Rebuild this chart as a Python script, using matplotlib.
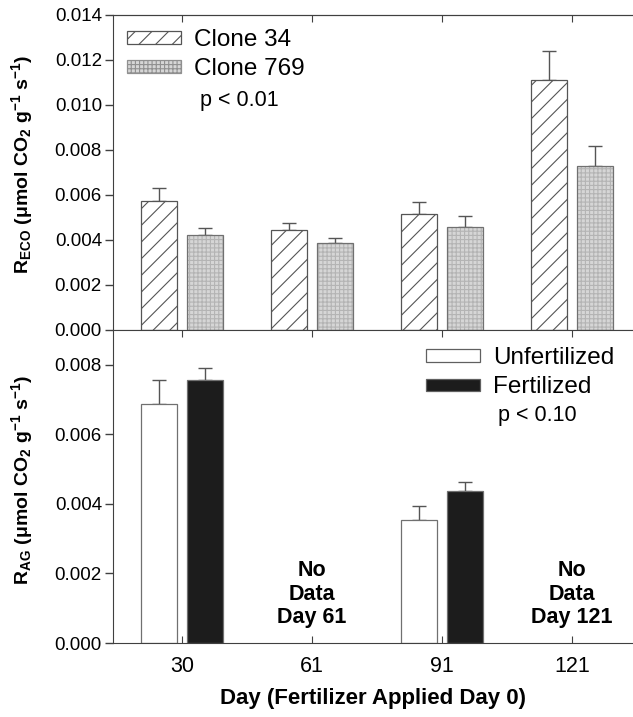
import numpy as np
import matplotlib
matplotlib.use("Agg")
import matplotlib.pyplot as plt
from matplotlib.patches import Patch

plt.rcParams['font.family'] = ['Liberation Sans', 'DejaVu Sans']
plt.rcParams['mathtext.fontset'] = 'custom'
plt.rcParams['mathtext.rm'] = 'Liberation Sans'
plt.rcParams['mathtext.bf'] = 'Liberation Sans:bold'
plt.rcParams['mathtext.it'] = 'Liberation Sans:italic'
plt.rcParams['hatch.linewidth'] = 0.8

# ---- data ----
days = ['30', '61', '91', '121']
clone34 = [0.00573, 0.00444, 0.00516, 0.01110]
clone34_err = [0.00058, 0.00031, 0.00051, 0.00130]
clone769 = [0.00422, 0.00387, 0.00458, 0.00729]
clone769_err = [0.00031, 0.00022, 0.00049, 0.00089]

unfert_days = [0, 2]  # indices of days with data
unfert = [0.00688, 0.00354]
unfert_err = [0.00069, 0.00040]
fert = [0.00757, 0.00437]
fert_err = [0.00034, 0.00026]
nodata_days = [1, 3]
nodata_labels = ['No\nData\nDay 61', 'No\nData\nDay 121']

top_yticks = [0.000, 0.002, 0.004, 0.006, 0.008, 0.010, 0.012, 0.014]
bot_yticks = [0.000, 0.002, 0.004, 0.006, 0.008]

x = np.arange(len(days))
w = 0.28
off = 0.178
axcol = '#404040'
errcol = '#555555'

fig = plt.figure(figsize=(6.33, 7.17), dpi=100)
ax1 = fig.add_axes([0.1785, 0.5398, 0.8215, 0.4393])
ax2 = fig.add_axes([0.1785, 0.1032, 0.8215, 0.4366])

# ---- top panel ----
ax1.bar(x - off, clone34, w, color='white', edgecolor='#555555', hatch='//', linewidth=0.9, zorder=2)
ax1.errorbar(x - off, clone34, yerr=[np.zeros(4), clone34_err], fmt='none', ecolor=errcol,
             elinewidth=1.0, capsize=5, capthick=1.0, zorder=1)
ax1.bar(x + off, clone769, w, color='#d6d6d6', edgecolor='#b4b4b4', hatch='++++', linewidth=0, zorder=2)
ax1.bar(x + off, clone769, w, fill=False, edgecolor='#707070', linewidth=0.9, zorder=3)
ax1.errorbar(x + off, clone769, yerr=[np.zeros(4), clone769_err], fmt='none', ecolor=errcol,
             elinewidth=1.0, capsize=5, capthick=1.0, zorder=1)

ax1.set_xlim(-0.53, 3.47)
ax1.set_ylim(0, 0.014)
ax1.set_yticks(top_yticks)
ax1.set_yticklabels([f'{v:.3f}' for v in top_yticks])
ax1.set_xticks(x)
ax1.tick_params(axis='x', direction='out', length=5, labelbottom=False, color=axcol)
ax1.tick_params(axis='y', direction='out', length=6, width=1, pad=2, labelsize=13.5, color=axcol)
sec = ax1.secondary_xaxis('top')
sec.set_xticks(x)
sec.tick_params(direction='in', length=5, labeltop=False, color=axcol)
sec.spines['top'].set_color(axcol)
for s in ['left', 'bottom', 'top']:
    ax1.spines[s].set_color(axcol)
ax1.spines['right'].set_visible(False)

ax1.set_ylabel(r'R$_{\mathbf{ECO}}$ ($\mathbf{\mu}$mol CO$_{\mathbf{2}}$ g$^{\mathbf{-1}}$ s$^{\mathbf{-1}}$)',
               fontsize=14, fontweight='bold')
ax1.yaxis.set_label_coords(-0.15, 0.525)

h1 = [Patch(facecolor='white', edgecolor='#555555', hatch='//', linewidth=0.9),
      Patch(facecolor='#d6d6d6', edgecolor='#909090', hatch='++++', linewidth=0.9)]
ax1.legend(h1, ['Clone 34', 'Clone 769'], loc='upper left', bbox_to_anchor=(0.027, 0.955),
           frameon=False, fontsize=17.5, handlelength=2.2, handleheight=0.42,
           handletextpad=0.55, labelspacing=0.3, borderpad=0, borderaxespad=0)
ax1.text(0.167, 0.727, 'p < 0.01', transform=ax1.transAxes, fontsize=15.5, ha='left', va='center')

# ---- bottom panel ----
xb = np.array(unfert_days)
ax2.bar(xb - off, unfert, w, color='white', edgecolor='#707070', linewidth=0.9, zorder=2)
ax2.errorbar(xb - off, unfert, yerr=[np.zeros(2), unfert_err], fmt='none', ecolor=errcol,
             elinewidth=1.0, capsize=5, capthick=1.0, zorder=1)
ax2.bar(xb + off, fert, w, color='#1c1c1c', edgecolor='#707070', linewidth=0.9, zorder=2)
ax2.errorbar(xb + off, fert, yerr=[np.zeros(2), fert_err], fmt='none', ecolor=errcol,
             elinewidth=1.0, capsize=5, capthick=1.0, zorder=1)

for i, lab in zip(nodata_days, nodata_labels):
    ax2.text(x[i], 0.0014, lab, ha='center', va='center', fontsize=15.5, fontweight='bold',
             linespacing=1.15)

ax2.set_xlim(-0.53, 3.47)
ax2.set_ylim(0, 0.009)
ax2.set_yticks(bot_yticks)
ax2.set_yticklabels([f'{v:.3f}' for v in bot_yticks])
ax2.set_xticks(x)
ax2.set_xticklabels(days)
ax2.tick_params(axis='x', direction='in', length=5, top=True, bottom=True, labelsize=15.5, pad=9, color=axcol)
ax2.tick_params(axis='y', direction='out', length=6, width=1, pad=2, labelsize=13.5, color=axcol)
for s in ['left', 'bottom', 'top']:
    ax2.spines[s].set_color(axcol)
ax2.spines['right'].set_visible(False)

ax2.set_ylabel(r'R$_{\mathbf{AG}}$ ($\mathbf{\mu}$mol CO$_{\mathbf{2}}$ g$^{\mathbf{-1}}$ s$^{\mathbf{-1}}$)',
               fontsize=14, fontweight='bold')
ax2.yaxis.set_label_coords(-0.15, 0.52)
ax2.set_xlabel('Day (Fertilizer Applied Day 0)', fontsize=16, fontweight='bold', labelpad=8)

h2 = [Patch(facecolor='white', edgecolor='#606060', linewidth=0.9),
      Patch(facecolor='#1c1c1c', edgecolor='#606060', linewidth=0.9)]
ax2.legend(h2, ['Unfertilized', 'Fertilized'], loc='upper left', bbox_to_anchor=(0.602, 0.945),
           frameon=False, fontsize=17.5, handlelength=2.2, handleheight=0.42,
           handletextpad=0.55, labelspacing=0.3, borderpad=0, borderaxespad=0)
ax2.text(0.740, 0.728, 'p < 0.10', transform=ax2.transAxes, fontsize=15.5, ha='left', va='center')

fig.savefig('out.png', dpi=100)
